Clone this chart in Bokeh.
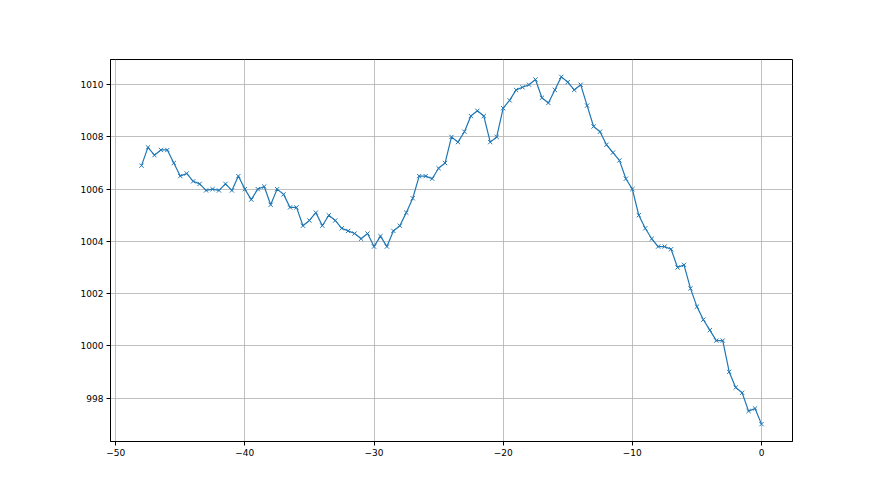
from bokeh.plotting import figure
from bokeh.models import FixedTicker, Range1d
from bokeh.embed import file_html
from bokeh.resources import INLINE

hours = [-48 + 0.5 * i for i in range(97)]
pressure = [
    1006.9, 1007.6, 1007.3, 1007.5, 1007.5, 1007.0, 1006.5, 1006.6, 1006.3, 1006.2,
    1005.95, 1006.0, 1005.95, 1006.2, 1005.95, 1006.5, 1006.0, 1005.6, 1006.0, 1006.1,
    1005.4, 1006.0, 1005.8, 1005.3, 1005.3, 1004.6, 1004.8, 1005.1, 1004.6, 1005.0,
    1004.8, 1004.5, 1004.4, 1004.3, 1004.1, 1004.3, 1003.8, 1004.2, 1003.8, 1004.4,
    1004.6, 1005.1, 1005.65, 1006.5, 1006.5, 1006.4, 1006.8, 1007.0, 1008.0, 1007.8,
    1008.2, 1008.8, 1009.0, 1008.8, 1007.8, 1008.0, 1009.1, 1009.4, 1009.8, 1009.9,
    1010.0, 1010.2, 1009.5, 1009.3, 1009.8, 1010.3, 1010.1, 1009.8, 1010.0, 1009.2,
    1008.4, 1008.2, 1007.7, 1007.4, 1007.1, 1006.4, 1006.0, 1005.0, 1004.5, 1004.1,
    1003.8, 1003.8, 1003.7, 1003.0, 1003.1, 1002.2, 1001.5, 1001.0, 1000.6, 1000.2,
    1000.2, 999.0, 998.4, 998.2, 997.5, 997.6, 997.0,
]
x_ticks = [-50, -40, -30, -20, -10, 0]
y_ticks = [998, 1000, 1002, 1004, 1006, 1008, 1010]

p = figure(
    frame_width=682, frame_height=382,
    output_backend="svg", toolbar_location=None,
    x_range=Range1d(-50.4, 2.4), y_range=Range1d(996.335, 1010.965),
    min_border_left=110, min_border_top=59, min_border_right=72, min_border_bottom=38,
)
p.background_fill_color = "white"
p.border_fill_color = "white"
p.outline_line_color = "black"
p.outline_line_width = 1

p.line(hours, pressure, line_color="#1f77b4", line_width=1.2)
p.scatter(hours, pressure, marker="x", size=6, line_color="#1f77b4", line_width=1)

p.xaxis.ticker = FixedTicker(ticks=x_ticks)
p.yaxis.ticker = FixedTicker(ticks=y_ticks)
p.xaxis.major_label_overrides = {t: (str(t).replace("-", "\u2212")) for t in x_ticks}
for ax in (p.xaxis[0], p.yaxis[0]):
    ax.minor_tick_line_color = None
    ax.major_tick_in = 0
    ax.major_tick_out = 4
    ax.axis_line_color = "black"
    ax.major_tick_line_color = "black"
    ax.major_label_text_font = "DejaVu Sans"
    ax.major_label_text_font_size = "9px"
    ax.major_label_text_color = "black"
    ax.major_label_standoff = 3
for g in (p.xgrid[0], p.ygrid[0]):
    g.grid_line_color = "#b0b0b0"
    g.grid_line_width = 0.8

open("out.html", "w").write(file_html(p, INLINE))
